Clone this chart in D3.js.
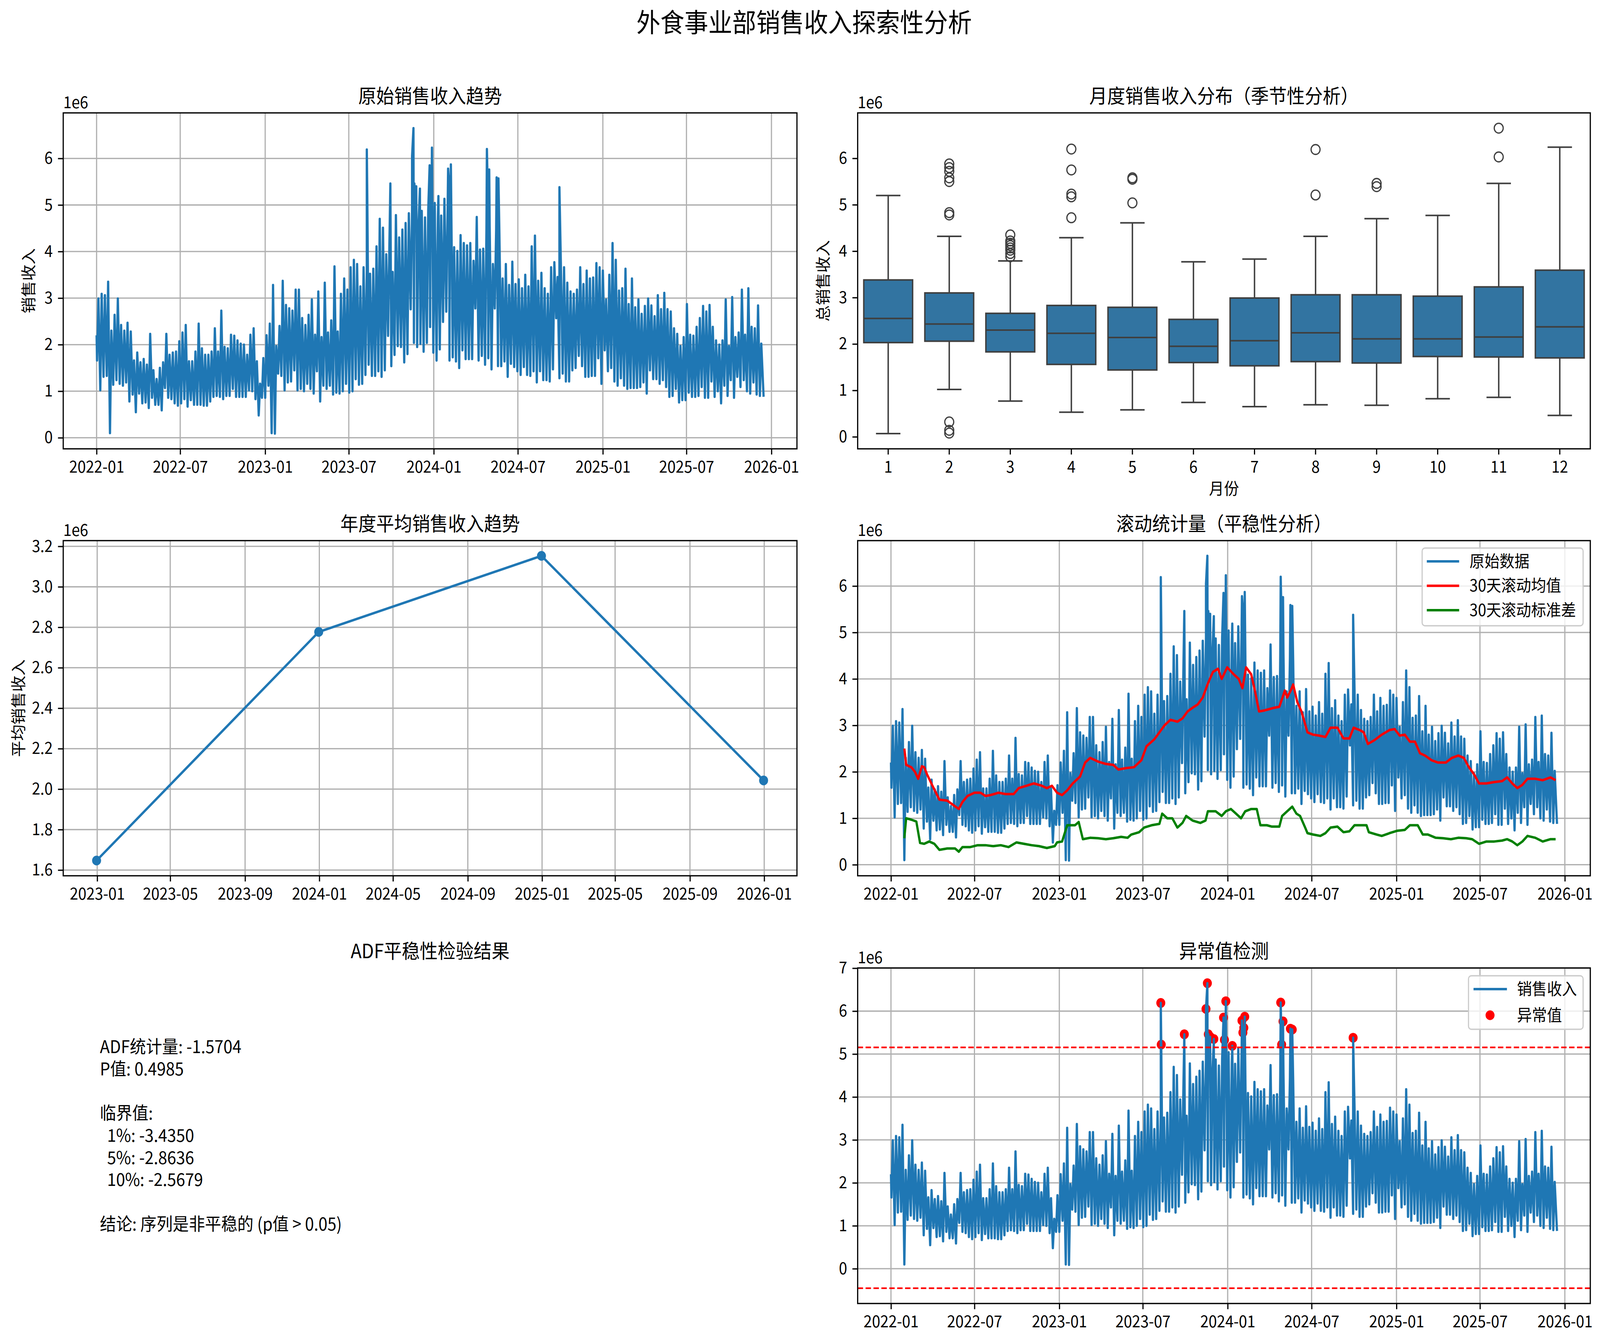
<!DOCTYPE html>
<html>
<head>
<meta charset="utf-8">
<script src="https://cdn.jsdelivr.net/npm/d3@7"></script>
<style>
  html, body { margin: 0; padding: 0; overflow: hidden; background: #fff; }
  #fig { display: block; width: 100vw; height: 100vh; }
  svg text { font-family: "Noto Sans CJK SC", "Noto Sans", sans-serif; fill: #000; }
</style>
</head>
<body>
<svg id="fig" viewBox="0 0 4453 3433" preserveAspectRatio="none"></svg>
<script>
// all revenue values are in millions (axes show the "1e6" offset)
const startDate = "2022-01-01";
const endDate = "2025-12-15";
const firstValue = 2.2;
const lastValue = 0.88;

// weekly peak / trough of the daily revenue, week 0 starts 2022-01-01
const weekHigh = [
  2.99, 3.09, 3.06, 3.35, 2.30, 2.64, 2.99, 2.42, 2.30, 2.47,
  2.28, 1.66, 1.83, 1.62, 1.69, 1.57, 2.23, 1.45, 1.26, 1.50,
  1.62, 2.23, 1.78, 1.83, 1.85, 2.07, 2.26, 2.42, 1.64, 1.64,
  1.85, 2.45, 1.92, 1.78, 1.78, 1.85, 2.35, 1.85, 2.73, 1.95,
  1.92, 2.21, 2.19, 2.09, 2.02, 2.00, 1.78, 2.21, 2.35, 1.64,
  1.16, 1.71, 2.20, 2.45, 3.28, 1.97, 2.40, 3.37, 2.85, 2.78,
  2.73, 3.18, 3.18, 2.57, 2.42, 2.64, 2.97, 2.21, 3.14, 2.16,
  3.33, 2.26, 2.52, 3.68, 2.28, 3.09, 3.42, 3.18, 3.66, 3.82,
  3.73, 3.25, 3.66, 3.60, 3.52, 3.63, 4.11, 4.70, 4.51, 3.94,
  4.20, 3.56, 4.78, 4.30, 4.47, 4.61, 4.82, 4.90, 4.80, 4.60,
  4.87, 4.73, 4.90, 4.60, 5.04, 4.80, 4.77, 5.13, 4.90, 4.80,
  4.09, 4.01, 4.35, 4.18, 4.13, 4.18, 3.80, 4.74, 4.04, 4.06,
  4.50, 4.54, 3.73, 4.45, 4.40, 3.42, 3.73, 3.28, 3.78, 3.30,
  3.40, 3.21, 3.50, 3.25, 4.11, 4.34, 3.37, 3.54, 3.21, 3.09,
  3.66, 3.77, 3.45, 3.78, 3.66, 3.33, 3.14, 3.09, 3.18, 3.66,
  3.30, 3.59, 3.42, 3.44, 3.75, 3.66, 3.59, 2.97, 3.50, 4.18,
  3.82, 3.16, 3.21, 3.63, 2.87, 3.42, 2.80, 2.97, 2.66, 2.83,
  2.99, 2.84, 2.61, 3.06, 2.76, 3.11, 2.76, 2.71, 2.35, 2.23,
  1.97, 2.16, 2.87, 2.21, 2.19, 2.38, 2.57, 2.83, 2.71, 2.85,
  2.38, 2.09, 2.00, 2.09, 2.97, 1.97, 3.02, 2.16, 2.26, 3.18,
  2.21, 3.21, 2.38, 2.35, 2.84, 2.02
];
const weekLow = [
  1.66, 1.02, 1.31, 1.33, 0.10, 1.14, 1.24, 1.16, 1.12, 1.19,
  0.78, 0.93, 0.55, 0.95, 0.74, 0.76, 0.64, 0.86, 0.71, 0.71,
  0.59, 1.07, 0.86, 0.83, 0.74, 0.69, 0.74, 0.83, 0.67, 0.81,
  0.71, 0.71, 0.71, 0.69, 0.69, 0.78, 0.88, 0.90, 0.88, 0.83,
  0.90, 0.90, 1.05, 0.88, 0.88, 0.88, 0.88, 1.02, 1.00, 0.83,
  0.48, 0.86, 0.86, 1.12, 0.10, 0.09, 1.38, 1.33, 1.02, 1.19,
  1.21, 1.45, 1.02, 1.05, 1.00, 1.16, 1.05, 0.95, 1.43, 0.78,
  1.12, 1.05, 1.12, 0.93, 0.97, 0.95, 1.00, 1.16, 0.97, 1.00,
  1.26, 1.14, 1.16, 1.35, 1.57, 1.33, 1.33, 1.43, 1.31, 1.45,
  2.19, 1.54, 1.78, 1.97, 1.95, 1.62, 1.80, 2.76, 2.04, 1.95,
  2.02, 1.85, 2.04, 2.38, 1.83, 1.66, 1.90, 2.49, 2.71, 1.66,
  1.73, 1.64, 1.50, 1.88, 1.69, 1.69, 1.69, 2.78, 1.66, 1.76,
  1.57, 1.71, 1.47, 2.78, 1.54, 1.54, 1.64, 1.31, 1.59, 1.52,
  1.43, 1.35, 1.52, 1.35, 1.33, 1.43, 1.19, 1.43, 1.24, 1.24,
  1.21, 1.47, 2.57, 1.28, 1.38, 1.21, 1.21, 1.45, 1.50, 1.76,
  1.54, 1.31, 1.31, 1.33, 1.33, 1.71, 1.16, 1.88, 1.43, 1.50,
  1.21, 1.12, 1.28, 1.12, 1.05, 1.07, 1.07, 1.07, 1.09, 1.19,
  0.95, 1.45, 1.26, 1.26, 1.16, 1.24, 1.09, 0.88, 0.90, 1.05,
  0.76, 0.81, 0.81, 0.97, 0.88, 0.88, 0.90, 1.09, 0.86, 0.86,
  1.21, 0.88, 1.00, 0.74, 1.12, 0.90, 1.24, 0.86, 1.31, 1.09,
  1.24, 1.00, 0.95, 1.19, 0.93, 0.90
];

// single-day spikes
const spikeDates = ["2023-08-09", "2023-08-10", "2023-09-29", "2023-11-15", "2023-11-18", "2023-11-20",
  "2023-11-24", "2023-12-02", "2023-12-23", "2023-12-25", "2023-12-28", "2024-01-11", "2024-02-01",
  "2024-02-03", "2024-02-05", "2024-02-07", "2024-04-25", "2024-04-27", "2024-04-30", "2024-05-16",
  "2024-05-20", "2024-09-29"];
const spikeValues = [6.19, 5.22, 5.46, 6.05, 6.65, 5.46, 5.40, 5.35, 5.85, 5.33, 6.23, 5.19, 5.78,
  5.50, 5.61, 5.87, 6.20, 5.22, 5.76, 5.59, 5.57, 5.38];

// monthly box plot (seasonality)
const months = [1, 2, 3, 4, 5, 6, 7, 8, 9, 10, 11, 12];
const boxLow = [0.07, 1.02, 0.77, 0.53, 0.58, 0.74, 0.65, 0.69, 0.68, 0.82, 0.85, 0.46];
const boxQ1 = [2.03, 2.06, 1.83, 1.56, 1.44, 1.60, 1.53, 1.62, 1.59, 1.73, 1.72, 1.70];
const boxMedian = [2.55, 2.43, 2.30, 2.23, 2.14, 1.95, 2.07, 2.24, 2.11, 2.11, 2.15, 2.37];
const boxQ3 = [3.38, 3.10, 2.66, 2.83, 2.79, 2.53, 2.99, 3.06, 3.06, 3.03, 3.23, 3.59];
const boxHigh = [5.20, 4.32, 3.79, 4.29, 4.61, 3.77, 3.83, 4.32, 4.70, 4.77, 5.46, 6.24];
const boxOutliers = [
  [],
  [5.88, 5.80, 5.72, 5.58, 5.50, 4.83, 4.78, 0.32, 0.14, 0.08],
  [4.35, 4.22, 4.17, 4.12, 4.07, 4.02, 3.95, 3.88],
  [6.20, 5.75, 5.23, 5.17, 4.72],
  [5.58, 5.55, 5.04],
  [], [],
  [6.19, 5.21],
  [5.46, 5.39],
  [],
  [6.65, 6.03],
  []
];

// yearly mean
const yearDates = ["2022-12-31", "2023-12-31", "2024-12-31", "2025-12-31"];
const yearMeans = [1.647, 2.777, 3.153, 2.043];

// 30 day rolling statistics, x = days since 2022-01-01
const rollMeanDay = [29, 33, 44, 52, 59, 67, 72, 78, 89, 100, 105, 122, 133, 147, 155, 166, 181, 194, 205, 216,
  233, 249, 266, 277, 294, 310, 327, 338, 349, 360, 371, 382, 394, 410, 421, 432, 449, 466, 482, 493,
  510, 527, 543, 554, 571, 582, 593, 606, 621, 632, 643, 654, 665, 676, 687, 698, 709, 717, 729, 743,
  754, 762, 770, 781, 789, 798, 809, 820, 831, 842, 854, 859, 868, 872, 881, 890, 903, 915, 928, 942,
  953, 968, 981, 994, 1003, 1016, 1025, 1034, 1048, 1064, 1081, 1092, 1103, 1114, 1125, 1136, 1147, 1158, 1172, 1186,
  1203, 1216, 1230, 1242, 1253, 1264, 1275, 1291, 1308, 1325, 1336, 1347, 1358, 1369, 1380, 1397, 1413, 1430, 1441];
const rollMean = [2.50, 2.15, 2.10, 2.00, 1.85, 2.12, 2.10, 1.95, 1.72, 1.50, 1.40, 1.38, 1.30, 1.20, 1.35, 1.48, 1.55, 1.55, 1.48, 1.50,
  1.55, 1.52, 1.52, 1.65, 1.70, 1.75, 1.70, 1.65, 1.70, 1.55, 1.50, 1.60, 1.75, 1.90, 2.20, 2.30, 2.22, 2.17, 2.15, 2.05,
  2.08, 2.10, 2.25, 2.55, 2.70, 2.85, 3.00, 3.12, 3.08, 3.15, 3.30, 3.38, 3.45, 3.60, 3.90, 4.15, 4.22, 4.00, 4.25, 4.10,
  4.00, 3.80, 4.25, 4.10, 3.75, 3.30, 3.32, 3.35, 3.38, 3.40, 3.75, 3.60, 3.78, 3.88, 3.50, 3.30, 2.85, 2.80, 2.78, 2.75,
  2.95, 2.95, 2.72, 2.72, 2.95, 2.90, 2.85, 2.60, 2.68, 2.80, 2.90, 2.92, 2.78, 2.80, 2.65, 2.65, 2.40, 2.35, 2.25, 2.20,
  2.20, 2.30, 2.35, 2.30, 2.10, 1.95, 1.75, 1.75, 1.78, 1.80, 1.88, 1.75, 1.65, 1.72, 1.85, 1.85, 1.82, 1.88, 1.82];
const rollStdDay = [29, 33, 44, 55, 63, 72, 83, 94, 105, 122, 139, 147, 155, 172, 188, 205, 222, 238, 255, 272,
  288, 305, 321, 338, 355, 360, 371, 382, 399, 407, 416, 432, 449, 466, 482, 499, 513, 521, 538, 549,
  565, 582, 588, 599, 610, 621, 632, 640, 654, 671, 682, 687, 704, 717, 726, 737, 748, 759, 768, 781,
  793, 801, 815, 826, 842, 848, 859, 870, 879, 887, 898, 903, 915, 931, 942, 953, 968, 981, 994, 1005,
  1020, 1031, 1036, 1053, 1064, 1081, 1097, 1114, 1125, 1142, 1153, 1164, 1181, 1197, 1214, 1230, 1247, 1260, 1275, 1291,
  1308, 1325, 1336, 1347, 1358, 1369, 1380, 1397, 1413, 1430, 1441];
const rollStd = [0.57, 1.00, 0.97, 0.93, 0.47, 0.45, 0.50, 0.45, 0.32, 0.35, 0.35, 0.28, 0.38, 0.38, 0.42, 0.42, 0.40, 0.42, 0.38, 0.48,
  0.45, 0.42, 0.40, 0.36, 0.40, 0.48, 0.50, 0.85, 0.85, 0.92, 0.55, 0.58, 0.57, 0.55, 0.57, 0.60, 0.58, 0.65, 0.70, 0.80,
  0.85, 0.88, 1.10, 1.00, 1.00, 0.80, 0.90, 1.05, 0.95, 0.90, 0.95, 1.15, 1.15, 1.05, 1.15, 1.20, 1.10, 1.00, 1.15, 1.20,
  1.20, 0.85, 0.85, 0.82, 0.82, 1.05, 1.15, 1.25, 1.10, 1.05, 0.80, 0.68, 0.65, 0.62, 0.68, 0.80, 0.82, 0.70, 0.72, 0.85,
  0.85, 0.85, 0.70, 0.65, 0.62, 0.68, 0.73, 0.75, 0.85, 0.85, 0.65, 0.65, 0.58, 0.57, 0.55, 0.58, 0.57, 0.55, 0.45, 0.50,
  0.50, 0.52, 0.55, 0.50, 0.42, 0.50, 0.62, 0.58, 0.50, 0.55, 0.55];

// outlier bounds (mean +/- 3 std)
const upperBound = 5.155;
const lowerBound = -0.455;

// ADF test output
const adfLines = ["ADF统计量: -1.5704", "P值: 0.4985", "", "临界值:", "  1%: -3.4350", "  5%: -2.8636",
  "  10%: -2.5679", "", "结论: 序列是非平稳的 (p值 > 0.05)"];

// ---------------------------------------------------------------
const FONT = '"Noto Sans CJK SC", "Noto Sans", sans-serif';
const BLUE = "#1f77b4", GRID = "#b0b0b0", LW = 6.25, TICK_FS = 41.7, TITLE_FS = 50;
const parse = d3.timeParse("%Y-%m-%d");
const fmtMonth = d3.timeFormat("%Y-%m");
const t0 = parse(startDate), t1 = parse(endDate);

const series = [{ date: t0, value: firstValue }];
weekLow.forEach((v, k) => {
  series.push({ date: d3.timeDay.offset(t0, 7 * k + 1), value: v });
  series.push({ date: d3.timeDay.offset(t0, 7 * k + 4), value: weekHigh[k] });
});
spikeDates.forEach((d, i) => series.push({ date: parse(d), value: spikeValues[i] }));
series.push({ date: t1, value: lastValue });
series.sort((a, b) => a.date - b.date);

const rollMeanData = rollMeanDay.map((d, i) => ({ date: d3.timeDay.offset(t0, d), value: rollMean[i] }));
const rollStdData = rollStdDay.map((d, i) => ({ date: d3.timeDay.offset(t0, d), value: rollStd[i] }));
const yearData = yearDates.map((d, i) => ({ date: parse(d), value: yearMeans[i] }));

const svg = d3.select("#fig");

const colL = { x: 176, w: 2042 }, colR = { x: 2387, w: 2039 };
const rowY = [{ y: 289, h: 860 }, { y: 1384, h: 858 }, { y: 2478, h: 859 }];

function padded(lo, hi) {
  const m = (hi - lo) * 0.05;
  return [lo - m, hi + m];
}
function timeDomain(a, b) {
  const m = (b - a) * 0.05;
  return [new Date(+a - m), new Date(+b + m)];
}

function makePanel(col, row) {
  const g = svg.append("g").attr("transform", `translate(${col.x},${row.y})`);
  return { g, w: col.w, h: row.h };
}

function drawGrid(p, xs, ys, xTicks, yTicks) {
  const gg = p.g.append("g").attr("stroke", GRID).attr("stroke-width", 3.3);
  gg.selectAll(".gx").data(xTicks).join("line")
    .attr("x1", d => xs(d)).attr("x2", d => xs(d)).attr("y1", 0).attr("y2", p.h);
  gg.selectAll(".gy").data(yTicks).join("line")
    .attr("x1", 0).attr("x2", p.w).attr("y1", d => ys(d)).attr("y2", d => ys(d));
}

function drawAxes(p, xs, ys, xTicks, yTicks, xFmt, yFmt) {
  const xa = p.g.append("g").attr("transform", `translate(0,${p.h})`)
    .call(d3.axisBottom(xs).tickValues(xTicks).tickFormat(xFmt).tickSize(14.6).tickPadding(17).tickSizeOuter(0));
  const ya = p.g.append("g")
    .call(d3.axisLeft(ys).tickValues(yTicks).tickFormat(yFmt).tickSize(14.6).tickPadding(14.6).tickSizeOuter(0));
  [xa, ya].forEach(a => {
    a.attr("font-family", FONT).attr("font-size", TICK_FS);
    a.select(".domain").remove();
    a.selectAll(".tick line").attr("stroke", "#000").attr("stroke-width", 3.3);
    a.selectAll(".tick text").attr("fill", "#000");
  });
  p.g.append("rect").attr("width", p.w).attr("height", p.h)
    .attr("fill", "none").attr("stroke", "#000").attr("stroke-width", 3.3);
  p.g.append("text").attr("x", 0).attr("y", -12).attr("font-size", TICK_FS).text("1e6");
}

function title(p, txt) {
  p.g.append("text").attr("x", p.w / 2).attr("y", -25).attr("text-anchor", "middle")
    .attr("font-size", TITLE_FS).text(txt);
}

function yLabel(p, txt, dx) {
  p.g.append("text").attr("transform", `translate(${dx},${p.h / 2}) rotate(-90)`)
    .attr("text-anchor", "middle").attr("font-size", TICK_FS).text(txt);
}

function lineOf(xs, ys) {
  return d3.line().x(d => xs(d.date)).y(d => ys(d.value));
}

function drawSeries(p, xs, ys, data, color) {
  p.g.append("path").datum(data).attr("d", lineOf(xs, ys))
    .attr("fill", "none").attr("stroke", color).attr("stroke-width", LW)
    .attr("stroke-linejoin", "round");
}

function legendBox(p, x, y, w, h) {
  p.g.append("rect").attr("x", x).attr("y", y).attr("width", w).attr("height", h).attr("rx", 8)
    .attr("fill", "#fff").attr("fill-opacity", 0.8).attr("stroke", "#cccccc").attr("stroke-width", 3.3);
}

const dailyDomain = timeDomain(t0, t1);
const halfYearTicks = d3.timeMonth.every(6).range(dailyDomain[0], dailyDomain[1]);

// ---------- 1. raw series ----------
{
  const p = makePanel(colL, rowY[0]);
  const xs = d3.scaleTime().domain(dailyDomain).range([0, p.w]);
  const ys = d3.scaleLinear().domain(padded(...d3.extent(series, d => d.value))).range([p.h, 0]);
  const yt = ys.ticks(8);
  drawGrid(p, xs, ys, halfYearTicks, yt);
  drawSeries(p, xs, ys, series, BLUE);
  drawAxes(p, xs, ys, halfYearTicks, yt, fmtMonth, d3.format("d"));
  title(p, "原始销售收入趋势");
  yLabel(p, "销售收入", -81);
}

// ---------- 2. monthly box plot ----------
{
  const p = makePanel(colR, rowY[0]);
  const xs = d3.scaleBand().domain(months).range([0, p.w]).paddingInner(0.2).paddingOuter(0.1);
  const allVals = boxLow.concat(boxHigh, boxOutliers.flat());
  const ys = d3.scaleLinear().domain(padded(d3.min(allVals), d3.max(allVals))).range([p.h, 0]);
  const yt = ys.ticks(8);
  const bw = xs.bandwidth(), edge = "#3f3f3f";
  const boxes = months.map((m, i) => ({ m, lo: boxLow[i], q1: boxQ1[i], med: boxMedian[i], q3: boxQ3[i], hi: boxHigh[i], out: boxOutliers[i] }));
  const bg = p.g.append("g").attr("stroke", edge).attr("stroke-width", 4);
  boxes.forEach(b => {
    const cx = xs(b.m) + bw / 2;
    bg.append("line").attr("x1", cx).attr("x2", cx).attr("y1", ys(b.q3)).attr("y2", ys(b.hi));
    bg.append("line").attr("x1", cx).attr("x2", cx).attr("y1", ys(b.q1)).attr("y2", ys(b.lo));
    bg.append("line").attr("x1", cx - bw / 4).attr("x2", cx + bw / 4).attr("y1", ys(b.hi)).attr("y2", ys(b.hi));
    bg.append("line").attr("x1", cx - bw / 4).attr("x2", cx + bw / 4).attr("y1", ys(b.lo)).attr("y2", ys(b.lo));
    bg.append("rect").attr("x", xs(b.m)).attr("width", bw).attr("y", ys(b.q3)).attr("height", ys(b.q1) - ys(b.q3))
      .attr("fill", "#3274a1");
    bg.append("line").attr("x1", xs(b.m)).attr("x2", xs(b.m) + bw).attr("y1", ys(b.med)).attr("y2", ys(b.med));
    bg.selectAll(null).data(b.out).join("circle")
      .attr("cx", cx).attr("cy", d => ys(d)).attr("r", 12.5).attr("fill", "none").attr("stroke-width", 3.3);
  });
  drawAxes(p, xs, ys, months, yt, d3.format("d"), d3.format("d"));
  title(p, "月度销售收入分布（季节性分析）");
  yLabel(p, "总销售收入", -81);
  p.g.append("text").attr("x", p.w / 2).attr("y", p.h + 117).attr("text-anchor", "middle")
    .attr("font-size", TICK_FS).text("月份");
}

// ---------- 3. yearly mean ----------
{
  const p = makePanel(colL, rowY[1]);
  const xs = d3.scaleTime().domain(timeDomain(...d3.extent(yearData, d => d.date))).range([0, p.w]);
  const ys = d3.scaleLinear().domain(padded(...d3.extent(yearData, d => d.value))).range([p.h, 0]);
  const xt = d3.timeMonth.every(4).range(xs.domain()[0], xs.domain()[1]);
  const yt = ys.ticks(8);
  drawGrid(p, xs, ys, xt, yt);
  drawSeries(p, xs, ys, yearData, BLUE);
  p.g.selectAll(".dot").data(yearData).join("circle")
    .attr("cx", d => xs(d.date)).attr("cy", d => ys(d.value)).attr("r", 12.5).attr("fill", BLUE);
  drawAxes(p, xs, ys, xt, yt, fmtMonth, d3.format(".1f"));
  title(p, "年度平均销售收入趋势");
  yLabel(p, "平均销售收入", -110);
}

// ---------- 4. rolling statistics ----------
{
  const p = makePanel(colR, rowY[1]);
  const xs = d3.scaleTime().domain(dailyDomain).range([0, p.w]);
  const allVals = series.map(d => d.value).concat(rollMean, rollStd);
  const ys = d3.scaleLinear().domain(padded(d3.min(allVals), d3.max(allVals))).range([p.h, 0]);
  const yt = ys.ticks(8);
  drawGrid(p, xs, ys, halfYearTicks, yt);
  drawSeries(p, xs, ys, series, BLUE);
  drawSeries(p, xs, ys, rollMeanData, "red");
  drawSeries(p, xs, ys, rollStdData, "green");
  drawAxes(p, xs, ys, halfYearTicks, yt, fmtMonth, d3.format("d"));
  title(p, "滚动统计量（平稳性分析）");
  legendBox(p, 1571, 19, 448, 199);
  const items = [["原始数据", BLUE], ["30天滚动均值", "red"], ["30天滚动标准差", "green"]];
  items.forEach(([label, c], i) => {
    const cy = 53 + i * 62.5;
    p.g.append("line").attr("x1", 1584).attr("x2", 1674).attr("y1", cy).attr("y2", cy)
      .attr("stroke", c).attr("stroke-width", LW);
    p.g.append("text").attr("x", 1703).attr("y", cy + 15).attr("font-size", TICK_FS).text(label);
  });
}

// ---------- 5. ADF text ----------
{
  const p = makePanel(colL, rowY[2]);
  title(p, "ADF平稳性检验结果");
  p.g.selectAll(".adf").data(adfLines).join("text")
    .attr("x", p.w * 0.05).attr("y", (d, i) => 218 + i * 56.75)
    .attr("font-size", 45).attr("xml:space", "preserve").style("white-space", "pre")
    .text(d => d);
}

// ---------- 6. anomaly detection ----------
{
  const p = makePanel(colR, rowY[2]);
  const xs = d3.scaleTime().domain(dailyDomain).range([0, p.w]);
  const allVals = series.map(d => d.value).concat([upperBound, lowerBound]);
  const ys = d3.scaleLinear().domain(padded(d3.min(allVals), d3.max(allVals))).range([p.h, 0]);
  const yt = ys.ticks(8);
  const anomalies = series.filter(d => d.value > upperBound || d.value < lowerBound);
  drawGrid(p, xs, ys, halfYearTicks, yt);
  p.g.selectAll(".anom").data(anomalies).join("circle")
    .attr("cx", d => xs(d.date)).attr("cy", d => ys(d.value)).attr("r", 12.5).attr("fill", "red");
  drawSeries(p, xs, ys, series, BLUE);
  [upperBound, lowerBound].forEach(b => {
    p.g.append("line").attr("x1", 0).attr("x2", p.w).attr("y1", ys(b)).attr("y2", ys(b))
      .attr("stroke", "red").attr("stroke-width", 4.2).attr("stroke-dasharray", "15,7");
  });
  drawAxes(p, xs, ys, halfYearTicks, yt, fmtMonth, d3.format("d"));
  title(p, "异常值检测");
  legendBox(p, 1700, 20, 319, 137);
  p.g.append("line").attr("x1", 1714).attr("x2", 1807).attr("y1", 54).attr("y2", 54)
    .attr("stroke", BLUE).attr("stroke-width", LW);
  p.g.append("text").attr("x", 1835).attr("y", 69).attr("font-size", TICK_FS).text("销售收入");
  p.g.append("circle").attr("cx", 1760).attr("cy", 121).attr("r", 12.5).attr("fill", "red");
  p.g.append("text").attr("x", 1835).attr("y", 136).attr("font-size", TICK_FS).text("异常值");
}

// ---------- figure title ----------
svg.append("text").attr("x", 2238).attr("y", 82).attr("text-anchor", "middle")
  .attr("font-size", 66.7).text("外食事业部销售收入探索性分析");
</script>
</body>
</html>
